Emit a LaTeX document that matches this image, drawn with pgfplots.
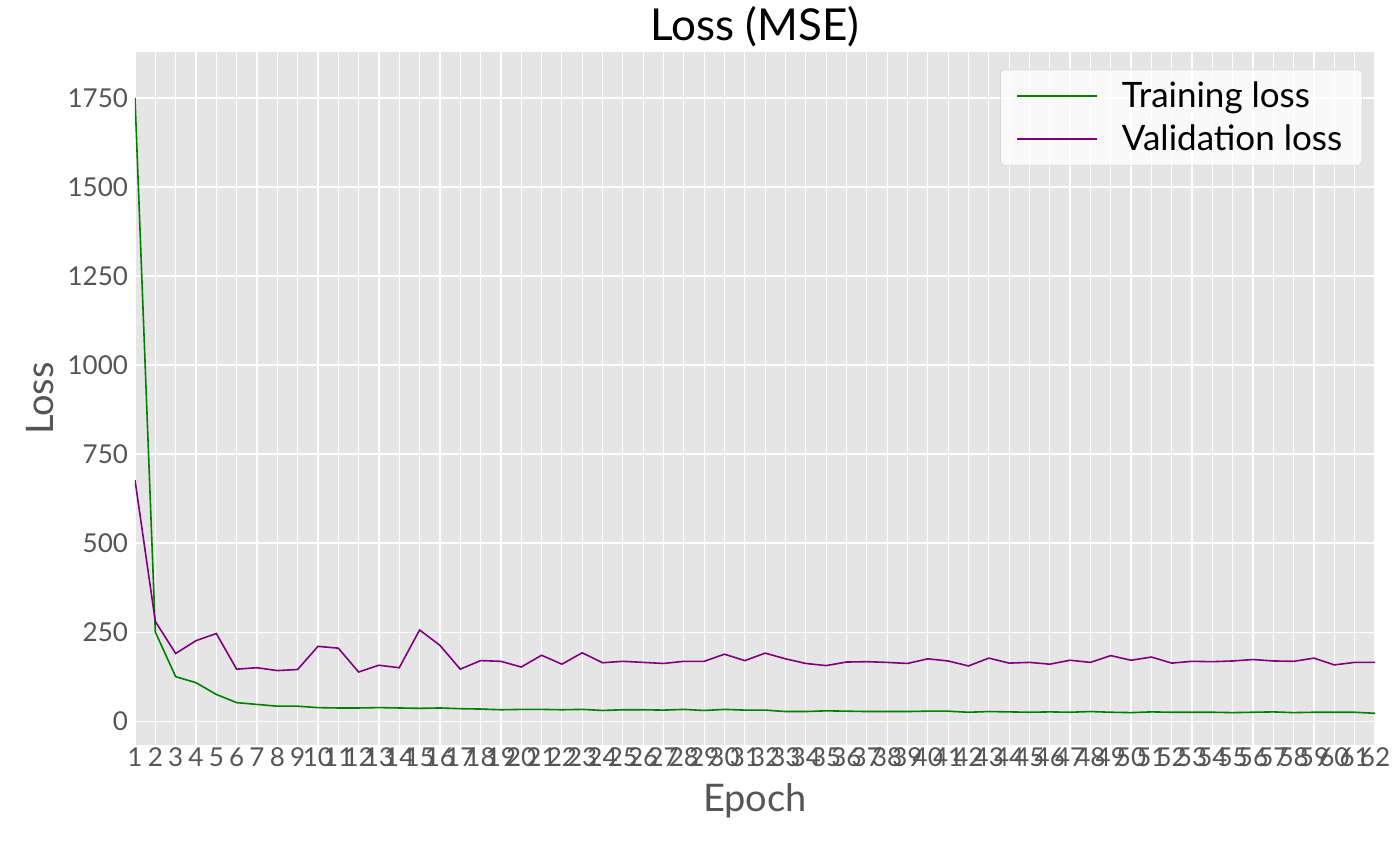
\documentclass[border=0pt]{standalone}
\usepackage{fontspec}
\setmainfont{Lato}
\usepackage{pgfplots}
\pgfplotsset{compat=1.18}
\definecolor{bg}{HTML}{E5E5E5}
\definecolor{tk}{HTML}{555555}
\begin{document}
\begin{tikzpicture}
\path[use as bounding box] (-67.5pt,-48.5pt) rectangle (632.5pt,372.5pt);
\begin{axis}[at={(0,0)},anchor=south west,scale only axis,width=620pt,height=346.5pt,
 xmin=1,xmax=62,ymin=-67,ymax=1879,
 axis background/.style={fill=bg}, axis line style={draw=none},
 grid=major, grid style={white,line width=0.6pt},
 xtick={1,...,62}, ytick={0,250,...,1750},
 tick style={draw=none},
 /pgf/number format/assume math mode=true,
 /pgf/number format/1000 sep={},
 ticklabel style={font=\fontsize{13}{15}\selectfont, text=tk},
 xticklabel style={inner sep=1pt},
 xlabel={Epoch}, ylabel={Loss},
 xlabel style={font=\fontsize{19}{22}\selectfont, text=tk, yshift=-4pt},
 ylabel style={font=\fontsize{19}{22}\selectfont, text=tk},
 title={Loss (MSE)}, title style={font=\fontsize{22}{25}\selectfont, yshift=-7pt},
 legend style={at={(0.99,0.975)},anchor=north east,fill=white,fill opacity=0.8,text opacity=1,draw=gray!30,rounded corners=2pt,font=\fontsize{17.5}{22}\selectfont,row sep=3pt, inner xsep=8pt, inner ysep=4pt},
 legend image code/.code={\draw[#1] (0pt,0pt) -- (40pt,0pt);},
 legend cell align=left,
]
\addplot[green!50!black,line width=0.8pt] coordinates {(1,1750)(2,250)(3,125)(4,108)(5,75)(6,52)(7,47)(8,42)(9,42)(10,38)(11,37)(12,37)(13,38)(14,37)(15,36)(16,37)(17,35)(18,34)(19,32)(20,33)(21,33)(22,32)(23,33)(24,30)(25,32)(26,32)(27,31)(28,33)(29,30)(30,33)(31,31)(32,31)(33,27)(34,27)(35,29)(36,28)(37,27)(38,27)(39,27)(40,28)(41,28)(42,25)(43,27)(44,26)(45,25)(46,26)(47,25)(48,27)(49,25)(50,24)(51,26)(52,25)(53,25)(54,25)(55,24)(56,25)(57,26)(58,24)(59,25)(60,25)(61,25)(62,22)};
\addlegendentry{\hspace{10pt}Training loss}
\addplot[color={rgb,255:red,128;green,0;blue,128},line width=0.8pt] coordinates {(1,677)(2,280)(3,190)(4,226)(5,246)(6,146)(7,150)(8,142)(9,145)(10,210)(11,205)(12,138)(13,157)(14,150)(15,256)(16,213)(17,146)(18,170)(19,168)(20,152)(21,185)(22,160)(23,192)(24,164)(25,168)(26,165)(27,162)(28,168)(29,168)(30,188)(31,170)(32,191)(33,175)(34,162)(35,156)(36,166)(37,167)(38,165)(39,162)(40,175)(41,169)(42,155)(43,177)(44,163)(45,165)(46,160)(47,171)(48,165)(49,184)(50,171)(51,180)(52,163)(53,168)(54,167)(55,169)(56,173)(57,169)(58,168)(59,177)(60,158)(61,165)(62,165)};
\addlegendentry{\hspace{10pt}Validation loss}
\end{axis}
\end{tikzpicture}
\end{document}
